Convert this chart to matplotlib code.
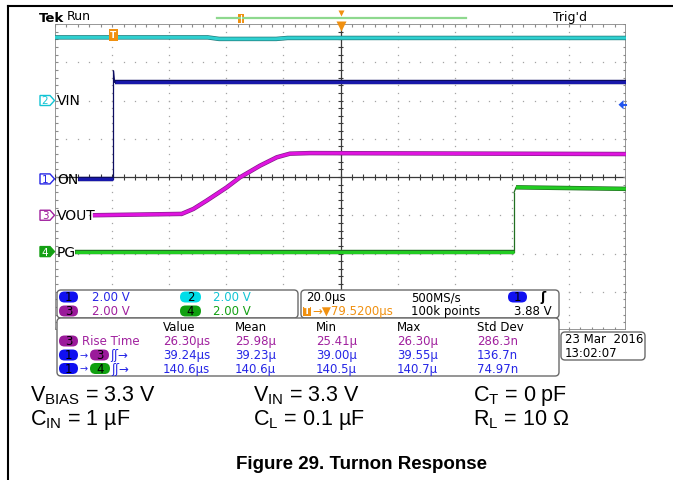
import numpy as np
import matplotlib
matplotlib.use("Agg")
import matplotlib.pyplot as plt
from matplotlib import patheffects as pe
from matplotlib import transforms
from matplotlib.patches import FancyBboxPatch, Polygon, Rectangle

plt.rcParams["font.family"] = ["DejaVu Sans"]
plt.rcParams["mathtext.fontset"] = "custom"
plt.rcParams["mathtext.rm"] = "Liberation Sans"

W, H = 673, 481

# scope settings
time_per_div = 20.0          # us / div
h_position = 79.52           # us from trigger to screen centre
volts_per_div = [2.0, 2.0, 2.0, 2.0]
ch_offsets = [-0.05, 2.0, -1.0, -1.95]   # divisions
ch_names = ["ON", "VIN", "VOUT", "PG"]
trigger_level = 3.88

# traces (time in us, volts)
on_t = [-12.4, 0.0, 0.0, 0.4, 179.5]
on_v = [0.0, 0.0, 5.65, 5.05, 5.05]
vin_t = [-20.5, 33.0, 37.0, 57.0, 61.0, 179.5]
vin_v = [3.30, 3.30, 3.22, 3.22, 3.27, 3.27]
vout_t = [-7.2, 23.9, 28.0, 32.6, 39.7, 44.3, 51.3, 57.2, 61.8, 68.8, 179.5]
vout_v = [0.0, 0.07, 0.33, 0.76, 1.46, 1.98, 2.59, 3.03, 3.22, 3.25, 3.20]
pg_t = [-13.5, 140.3, 140.3, 141.0, 179.5]
pg_v = [0.0, 0.0, 3.08, 3.36, 3.28]

# readouts
meas_headers = ["Value", "Mean", "Min", "Max", "Std Dev"]
meas_rise = ["26.30µs", "25.98µ", "25.41µ", "26.30µ", "286.3n"]
meas_on_vout = ["39.24µs", "39.23µ", "39.00µ", "39.55µ", "136.7n"]
meas_on_pg = ["140.6µs", "140.6µ", "140.5µ", "140.7µ", "74.97n"]
conditions = [
    ["V$_{\\mathrm{BIAS}}$ = 3.3 V", "V$_{\\mathrm{IN}}$ = 3.3 V", "C$_{\\mathrm{T}}$ = 0 pF"],
    ["C$_{\\mathrm{IN}}$ = 1 µF", "C$_{\\mathrm{L}}$ = 0.1 µF", "R$_{\\mathrm{L}}$ = 10 Ω"],
]
title = "Figure 29. Turnon Response"

BLUE, CYAN, PURPLE, GREEN, ORANGE = "#2626e6", "#12c4d4", "#a0209e", "#14a014", "#f09010"
trace_style = [("#1818aa", "#0c0c60"), ("#2fd0d0", "#1f7a7a"),
               ("#e014e0", "#84208a"), ("#22cc22", "#217021")]

fig = plt.figure(figsize=(W / 100, H / 100), dpi=100)

# graticule
ax = fig.add_axes([55 / W, 1 - 331 / H, 571 / W, 306 / H])
xmin = h_position - 5 * time_per_div
xmax = h_position + 5 * time_per_div
ax.set_xlim(xmin, xmax)
ax.set_ylim(-4, 4)
ax.axis("off")

sub_x = xmin + time_per_div / 5 * np.arange(51)
sub_y = np.linspace(-4, 4, 41)
for i in range(1, 10):
    if i != 5:
        gx = xmin + i * time_per_div
        ax.plot(np.full_like(sub_y, gx), sub_y, ls="none", marker="s", ms=0.9,
                mec="none", mfc="#a4a4a4")
for j in range(-3, 4):
    if j != 0:
        ax.plot(sub_x, np.full_like(sub_x, j), ls="none", marker="s", ms=0.9,
                mec="none", mfc="#a4a4a4")
tkx, tky = 1.05, 0.08
ax.axhline(0, color="#3a3a3a", lw=0.9)
ax.axvline(h_position, color="#3a3a3a", lw=0.9)
ax.vlines(sub_x, -tky, tky, color="#3a3a3a", lw=0.8)
ax.hlines(sub_y, h_position - tkx, h_position + tkx, color="#3a3a3a", lw=0.8)
ax.vlines(sub_x, 4 - tky, 4, color="#8a8a8a", lw=0.8)
ax.vlines(sub_x, -4, -4 + tky, color="#8a8a8a", lw=0.8)
ax.hlines(sub_y, xmin, xmin + tkx, color="#8a8a8a", lw=0.8)
ax.hlines(sub_y, xmax - tkx, xmax, color="#8a8a8a", lw=0.8)
ax.add_patch(Rectangle((xmin, -4), xmax - xmin, 8, fill=False, ec="#858585", lw=1.2))


def draw_trace(t, v, ch):
    core, edge = trace_style[ch]
    t = np.asarray(t, float)
    y = ch_offsets[ch] + np.asarray(v, float) / volts_per_div[ch]
    effects = [pe.Stroke(linewidth=3.2, foreground=edge), pe.Normal()]
    run = [0]
    for i in range(len(t) - 1):
        if t[i + 1] - t[i] < 1.0:
            ax.plot(t[i:i + 2], y[i:i + 2], color=edge, lw=0.9, zorder=3)
            if len(run) > 1:
                ax.plot(t[run], y[run], color=core, lw=2.2, zorder=4,
                        solid_capstyle="butt", path_effects=effects)
            run = [i + 1]
        else:
            run.append(i + 1)
    if len(run) > 1:
        ax.plot(t[run], y[run], color=core, lw=2.2, zorder=4, solid_capstyle="butt",
                path_effects=effects)


draw_trace(vin_t, vin_v, 1)
draw_trace(on_t, on_v, 0)
draw_trace(vout_t, vout_v, 2)
draw_trace(pg_t, pg_v, 3)

# overlay in pixel coordinates
ov = fig.add_axes([0, 0, 1, 1], zorder=5)
ov.set_xlim(0, W)
ov.set_ylim(H, 0)
ov.axis("off")
tr_y = transforms.blended_transform_factory(ov.transData, ax.transData)
tr_x = transforms.blended_transform_factory(ax.transData, ov.transData)

# page frame
ov.plot([8, W], [7, 7], color="black", lw=1.5)
ov.plot([8, 8], [7, H], color="black", lw=1.5)

# top status line
ov.text(39, 18, "Tek", fontsize=9.5, fontweight="bold", va="center")
ov.text(67, 17, "Run", fontsize=9, va="center")
ov.text(553, 17, "Trig'd", fontsize=9, va="center")
ov.plot([217, 466], [19, 19], color="#8ed88e", lw=1.6)
ov.add_patch(Rectangle((238, 14.5), 6, 9, fc=ORANGE, ec="none"))
ov.plot([241, 241], [16, 23], color="white", lw=0.8)
ov.plot([h_position], [14], marker="v", ms=4.5, color=ORANGE, mec="none",
        transform=tr_x, clip_on=False)
ov.plot([h_position], [27], marker="v", ms=7, color=ORANGE, mec="none",
        transform=tr_x, clip_on=False)
ov.text(0, 36, "T", transform=tr_x, fontsize=6.5, fontweight="bold", color="white",
        ha="center", va="center",
        bbox=dict(boxstyle="square,pad=0.2", fc=ORANGE, ec="none"))

# trigger level arrow on the right edge
lvl = ch_offsets[0] + trigger_level / volts_per_div[0]
ov.add_patch(Polygon([[618.5, lvl], [623.5, lvl + 0.12], [623.5, lvl - 0.12]],
                     closed=True, transform=tr_y, fc="#2255ee", ec="none"))
ov.plot([623, 626], [lvl, lvl], color="#2255ee", lw=1.5, transform=tr_y)

# channel markers
tag_edge = [BLUE, CYAN, PURPLE, GREEN]
for ch in range(4):
    y = ch_offsets[ch]
    hh = 5 / 38.25
    fill = GREEN if ch == 3 else "white"
    ov.add_patch(Polygon([[40, y + hh], [50, y + hh], [54.5, y], [50, y - hh], [40, y - hh]],
                         closed=True, transform=tr_y, fc=fill, ec=tag_edge[ch], lw=1.0))
    ov.text(45, y, str(ch + 1), transform=tr_y, fontsize=7.5, ha="center", va="center",
            color="white" if ch == 3 else tag_edge[ch])
    ov.text(57, y, ch_names[ch], transform=tr_y, fontsize=10, ha="left", va="center",
            color="black")


def box(x0, y0, x1, y1):
    ov.add_patch(FancyBboxPatch((x0, y0), x1 - x0, y1 - y0,
                                boxstyle="round,pad=0,rounding_size=4",
                                fc="white", ec="#6a6a6a", lw=1.0))


def pill(x, y, w, color, label):
    ov.add_patch(FancyBboxPatch((x, y - 5.5), w, 11, boxstyle="round,pad=0,rounding_size=5.5",
                                fc=color, ec="none"))
    ov.text(x + w / 2, y, label, fontsize=8.5, ha="center", va="center", color="black")


FS = 8.5
# vertical scale box
box(57, 291, 298, 319)
pill(59, 298, 19, "#1010f0", "1")
ov.text(92, 298, "2.00 V", fontsize=FS, color=BLUE, va="center")
pill(180, 298, 21, "#00dde8", "2")
ov.text(213, 298, "2.00 V", fontsize=FS, color=CYAN, va="center")
pill(59, 312, 19, "#9a1a9a", "3")
ov.text(92, 312, "2.00 V", fontsize=FS, color=PURPLE, va="center")
pill(180, 312, 21, "#10a010", "4")
ov.text(213, 312, "2.00 V", fontsize=FS, color=GREEN, va="center")

# timebase / trigger box
box(301, 291, 559, 319)
ov.text(306, 298, "20.0µs", fontsize=FS, va="center")
ov.text(411, 298, "500MS/s", fontsize=FS, va="center")
pill(508, 298, 19, "#1010f0", "1")
ov.text(540, 298, "ʃ", fontsize=9, fontweight="bold", va="center")
ov.add_patch(Rectangle((303, 307.5), 8, 9, fc=ORANGE, ec="none"))
ov.text(307, 312, "T", fontsize=6.5, fontweight="bold", color="white", ha="center", va="center")
ov.text(312, 312, "→▼79.5200µs", fontsize=FS, color=ORANGE, va="center")
ov.text(411, 312, "100k points", fontsize=FS, va="center")
ov.text(552, 312, "3.88 V", fontsize=FS, va="center", ha="right")

# measurement box
box(57, 319, 559, 377)
col_x = [163, 235, 316, 397, 477]
for cx, hd in zip(col_x, meas_headers):
    ov.text(cx, 328, hd, fontsize=FS, va="center")
rows = [(342, meas_rise, PURPLE), (356, meas_on_vout, BLUE), (369.5, meas_on_pg, BLUE)]
for ry, vals, col in rows:
    for cx, val in zip(col_x, vals):
        ov.text(cx, ry, val, fontsize=FS, color=col, va="center")
pill(59, 342, 19, "#9a1a9a", "3")
ov.text(82, 342, "Rise Time", fontsize=FS, color=PURPLE, va="center")
pill(59, 356, 19, "#1010f0", "1")
ov.text(80, 356, "→", fontsize=7, color=BLUE, va="center")
pill(90, 356, 19, "#9a1a9a", "3")
ov.text(110, 356, "ʃʃ→", fontsize=FS, color=BLUE, va="center")
pill(59, 369.5, 19, "#1010f0", "1")
ov.text(80, 369.5, "→", fontsize=7, color=BLUE, va="center")
pill(90, 369.5, 20, "#10a010", "4")
ov.text(111, 369.5, "ʃʃ→", fontsize=FS, color=BLUE, va="center")

# date box
box(561, 333, 645, 361)
ov.text(565, 340, "23 Mar  2016", fontsize=FS, va="center")
ov.text(565, 353.5, "13:02:07", fontsize=FS, va="center")

# test conditions
for r, line in enumerate(conditions):
    for c, txt in enumerate(line):
        ov.text([30, 253, 473][c], 396 + r * 24, txt, fontsize=15.5,
                family="Liberation Sans", va="center", ha="left")
ov.text(362, 465, title, fontsize=13.5, fontweight="bold", family="Liberation Sans",
        ha="center", va="center")

fig.savefig("out.png", dpi=100)
